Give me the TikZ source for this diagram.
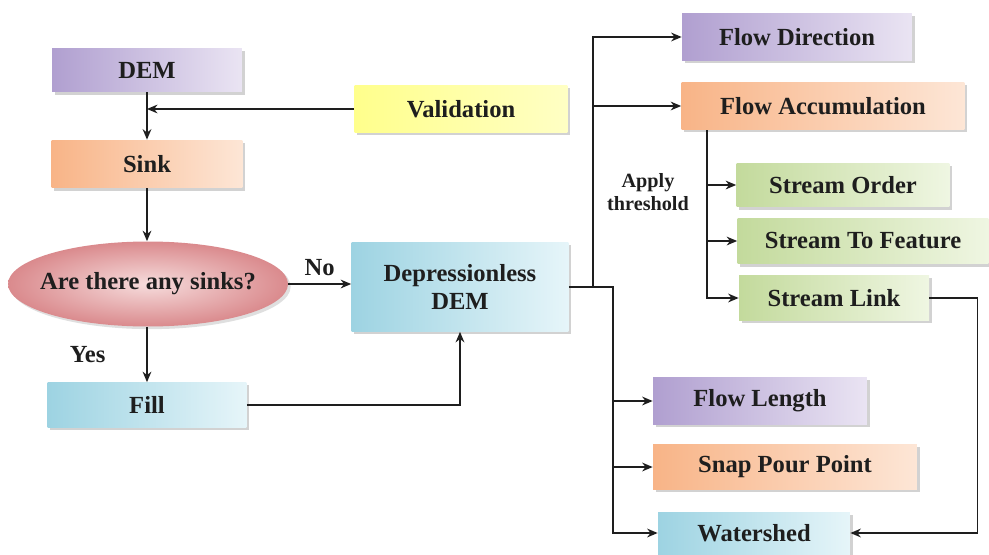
\documentclass[tikz,border=0pt]{standalone}
\usepackage{fontspec}
\setmainfont{Liberation Serif}
\usetikzlibrary{shapes.geometric,shadows,arrows.meta}

\definecolor{purpleL}{HTML}{B09FD0}
\definecolor{purpleR}{HTML}{EAE4F3}
\definecolor{orangeL}{HTML}{F8B487}
\definecolor{orangeR}{HTML}{FDE6D6}
\definecolor{yellowL}{HTML}{FFFF8C}
\definecolor{yellowR}{HTML}{FFFFC4}
\definecolor{greenL}{HTML}{C3DA9C}
\definecolor{greenR}{HTML}{EFF6E2}
\definecolor{blueL}{HTML}{9DD3E2}
\definecolor{blueR}{HTML}{E6F5F9}
\definecolor{pinkO}{HTML}{DA8A8D}
\definecolor{pinkI}{HTML}{F6DCDC}
\definecolor{ink}{HTML}{1E1E1E}

\begin{document}
\begin{tikzpicture}[x=0.02cm, y=-0.02cm, >={Stealth[length=6pt,width=5pt]},
    every node/.style={font=\fontsize{14}{16}\selectfont\bfseries, text=ink},
    box/.style={rectangle, inner sep=2pt, align=center,
        drop shadow={shadow xshift=1.5pt, shadow yshift=-1.5pt, fill=black!35}},
    purplebox/.style={box, left color=purpleL, right color=purpleR},
    orangebox/.style={box, left color=orangeL, right color=orangeR},
    greenbox/.style={box, left color=greenL, right color=greenR},
    bluebox/.style={box, left color=blueL, right color=blueR},
    link/.style={->, draw=ink, line width=0.8pt}]
    \useasboundingbox (0,0) rectangle (989,554);

    % left column
    \node[purplebox, minimum width=3.8cm, minimum height=0.88cm] (dem) at (147,70) {DEM};
    \node[box, left color=yellowL, right color=yellowR, minimum width=4.26cm, minimum height=0.94cm] (valid) at (461,109) {Validation};
    \node[orangebox, minimum width=3.82cm, minimum height=0.96cm] (sink) at (147,164) {Sink};
    % decision: ellipse drawn under a plain node
    \coordinate (askc) at (148,284);
    \shade[inner color=pinkI, outer color=pinkO,
        drop shadow={shadow xshift=1.5pt, shadow yshift=-1.5pt, fill=black!25}] (askc) ellipse [x radius=2.8cm, y radius=0.85cm];
    \node[minimum width=5.6cm, minimum height=1.7cm, inner sep=0pt] (ask) at (askc) {Are there any sinks?};
    \node[bluebox, minimum width=3.98cm, minimum height=0.9cm] (fill) at (147,405) {Fill};
    \node[bluebox, minimum width=4.34cm, minimum height=1.78cm] (ddem) at (460,287) {Depressionless\\DEM};

    % right column
    \node[purplebox, minimum width=4.6cm, minimum height=0.94cm] (fdir) at (797,37) {Flow Direction};
    \node[orangebox, minimum width=5.66cm, minimum height=0.94cm] (facc) at (823,106) {Flow Accumulation};
    \node[greenbox, minimum width=4.26cm, minimum height=0.88cm] (sord) at (843,185) {Stream Order};
    \node[greenbox, minimum width=5.02cm, minimum height=0.92cm] (sfeat) at (863,241) {Stream To Feature};
    \node[greenbox, minimum width=3.8cm, minimum height=0.9cm] (slink) at (834,298) {Stream Link};
    \node[purplebox, minimum width=4.28cm, minimum height=0.94cm] (flen) at (760,401) {Flow Length};
    \node[orangebox, minimum width=5.28cm, minimum height=0.9cm] (snap) at (785,467) {Snap Pour Point};
    \node[bluebox, minimum width=3.84cm, minimum height=0.84cm] (wshed) at (754,533) {Watershed};

    \node[font=\fontsize{11.5}{13}\selectfont\bfseries, align=center] (thr) at (648,192) {Apply\\threshold};

    % connectors, left part
    \draw[link] (dem.south) -- (sink.north);
    \draw[link] (valid.west) -- (dem.south |- valid.west);
    \draw[link] (sink.south) -- (sink.south |- ask.north);
    \draw[link] (ask.east) -- node[above=1pt] (no) {No} (ddem.west |- ask.east);
    \draw[link] (fill.north |- ask.south) -- node[left=20pt] (yes) {Yes} (fill.north);
    \draw[link] (fill.east) -| (ddem.south);

    % trunks
    \coordinate (tup) at (593,287);
    \coordinate (tdn) at (613,287);
    \coordinate (acc) at (707,130);
    \draw[link] (ddem.east) -- (tdn) |- (wshed.west);
    \draw[link] (tup) |- (fdir.west);
    \draw[link] (tup |- facc) -- (facc.west);
    \draw[link] (tdn |- flen) -- (flen.west);
    \draw[link] (tdn |- snap) -- (snap.west);
    \draw[link] (acc) |- (slink.west);
    \draw[link] (acc |- sord) -- (sord.west);
    \draw[link] (acc |- sfeat) -- (sfeat.west);
    \draw[link] (slink.east) -- ++(48,0) |- (wshed.east);
\end{tikzpicture}
\end{document}
